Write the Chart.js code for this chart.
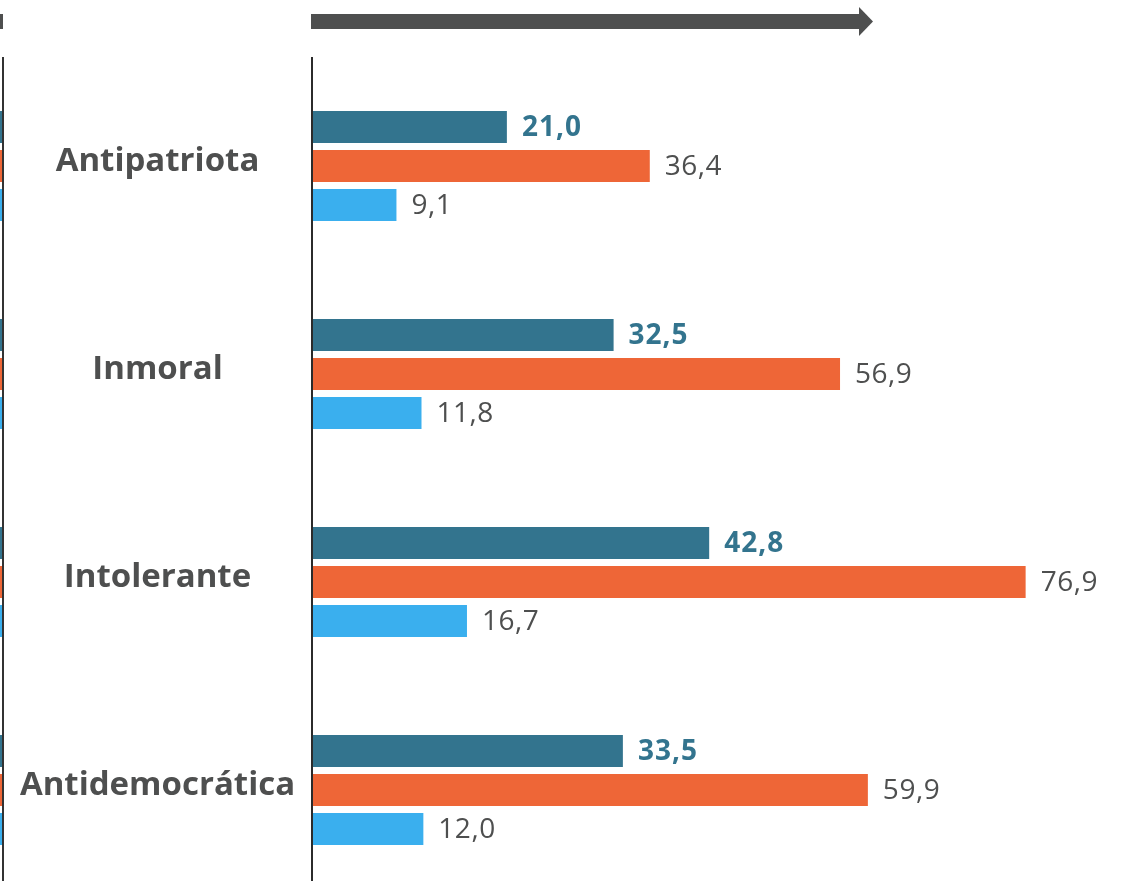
<!DOCTYPE html>
<html><head><meta charset="utf-8">
<script src="https://cdn.jsdelivr.net/npm/chart.js@4/dist/chart.umd.min.js"></script>
<style>
html,body{margin:0;padding:0;background:#fff;overflow:hidden;}
canvas{display:block;}
</style></head><body>
<canvas id="c" width="1124" height="894"></canvas>
<script>
const categories = ['Antipatriota', 'Inmoral', 'Intolerante', 'Antidemocrática'];
const seriesNames = ['Serie 1', 'Serie 2', 'Serie 3'];
const series1 = [21.0, 32.5, 42.8, 33.5];
const series2 = [36.4, 56.9, 76.9, 59.9];
const series3 = [9.1, 11.8, 16.7, 12.0];
const colors = ['#33748e', '#ee6637', '#3aafee'];
const xMax = 87.5;

const GRAY = '#4e4f4f';
const FAMILY = "'Open Sans', sans-serif";
const catFontSize = 33;
const valFontSize = 28;
const AXIS_X = 312;
const LEFT_LINE_X = 3;

const decor = {
  id: 'decor',
  afterDatasetsDraw(chart) {
    const ctx = chart.ctx;
    const H = chart.height;
    ctx.save();
    // top arrow
    ctx.fillStyle = GRAY;
    ctx.fillRect(311, 14, 548, 15);
    ctx.beginPath();
    ctx.moveTo(859, 7); ctx.lineTo(873, 21.5); ctx.lineTo(859, 36); ctx.closePath();
    ctx.fill();
    // left dash (neighbouring arrow tail)
    ctx.fillRect(0, 14, 3, 15);
    // cut-off bars from neighbouring panel
    chart.data.datasets.forEach((ds, i) => {
      const meta = chart.getDatasetMeta(i);
      meta.data.forEach(bar => {
        const h = bar.height;
        ctx.fillStyle = ds.backgroundColor;
        ctx.fillRect(0, bar.y - h / 2, 2, h);
      });
    });
    // vertical lines
    ctx.fillStyle = '#333';
    ctx.fillRect(2, 57, 2, H);
    ctx.fillStyle = '#2b2b2b';
    ctx.fillRect(AXIS_X - 1, 57, 2, H);
    // category labels, placed on the category scale
    const yScale = chart.scales.y;
    ctx.font = `700 ${catFontSize}px ${FAMILY}`;
    ctx.fillStyle = GRAY;
    ctx.textAlign = 'center';
    ctx.textBaseline = 'middle';
    categories.forEach((c, i) => {
      ctx.fillText(c, (LEFT_LINE_X + AXIS_X) / 2, yScale.getPixelForTick(i) - 4);
    });
    // value labels
    chart.data.datasets.forEach((ds, i) => {
      const meta = chart.getDatasetMeta(i);
      meta.data.forEach((bar, j) => {
        const v = ds.data[j];
        const txt = v.toFixed(1).replace('.', ',');
        ctx.font = `${i === 0 ? '700' : '400'} ${valFontSize}px ${FAMILY}`;
        ctx.letterSpacing = i === 0 ? '1px' : '0.5px';
        ctx.fillStyle = i === 0 ? '#33748e' : GRAY;
        ctx.textAlign = 'left';
        ctx.textBaseline = 'middle';
        ctx.fillText(txt, bar.x + 15, bar.y + 1);
      });
    });
    ctx.restore();
  }
};

new Chart(document.getElementById('c'), {
  type: 'bar',
  data: {
    labels: categories,
    datasets: [
      {label: seriesNames[0], data: series1, backgroundColor: colors[0]},
      {label: seriesNames[1], data: series2, backgroundColor: colors[1]},
      {label: seriesNames[2], data: series3, backgroundColor: colors[2]}
    ]
  },
  options: {
    indexAxis: 'y',
    responsive: false,
    animation: false,
    layout: {padding: {top: 62, right: 0, bottom: 0, left: 0}},
    datasets: {bar: {categoryPercentage: 0.5625, barPercentage: 0.8205, borderWidth: 0}},
    plugins: {legend: {display: false}, tooltip: {enabled: false}},
    scales: {
      x: {display: false, min: 0, max: xMax, grid: {display: false}},
      y: {
        position: 'left',
        grid: {display: false, drawTicks: false},
        border: {display: false},
        afterFit(scale) { scale.width = AXIS_X; },
        ticks: {display: false}
      }
    }
  },
  plugins: [decor]
});
</script>
</body></html>
